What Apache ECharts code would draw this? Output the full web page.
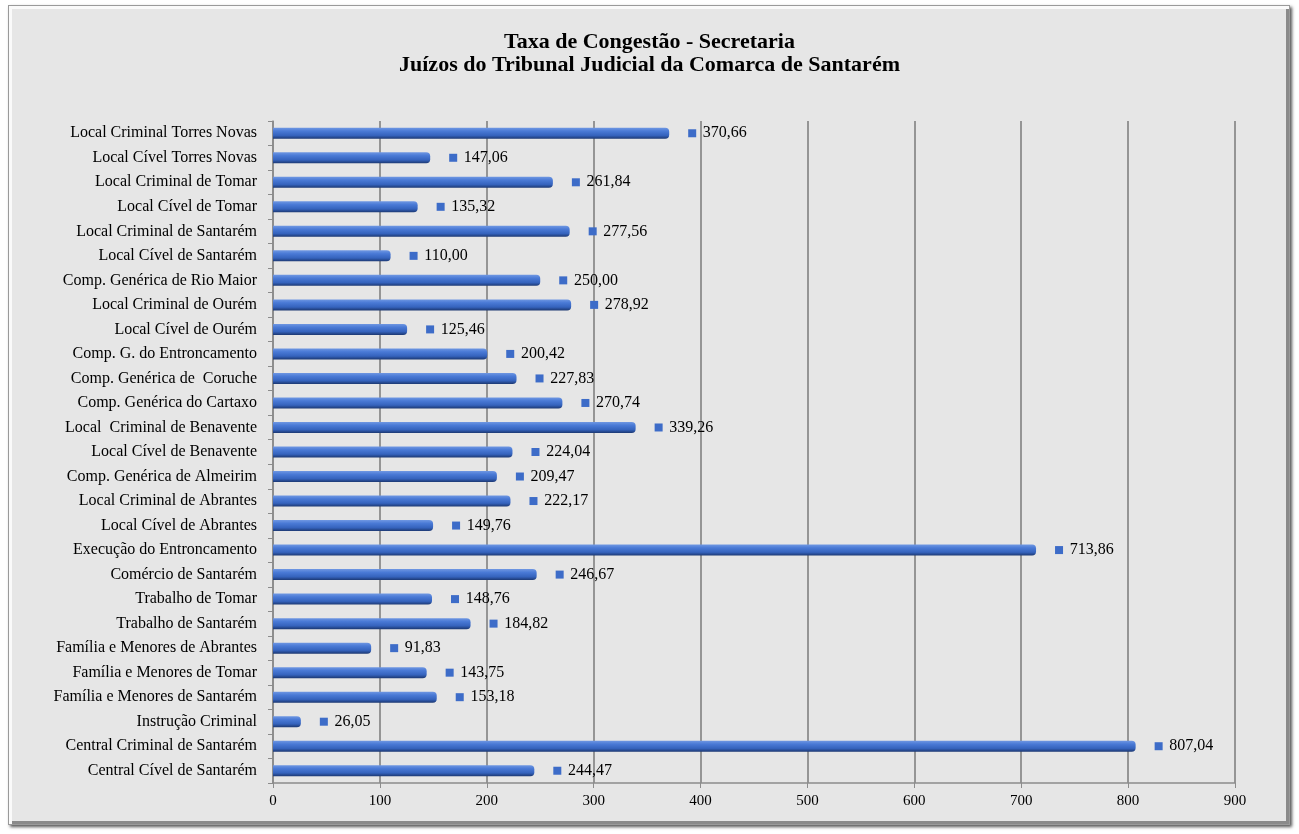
<!DOCTYPE html>
<html>
<head>
<meta charset="utf-8">
<script src="https://cdn.jsdelivr.net/npm/echarts@6/dist/echarts.min.js"></script>
<style>
  html, body { margin:0; padding:0; background:#ffffff; }
  #frame { position:absolute; left:8px; top:5px; width:1280px; height:818px;
    background:#e6e6e6; border:1px solid #9a9a9a;
    box-shadow: inset 3px 3px 0 #fafafa, inset -3px -3px 0 #8a8a8a, 2px 2px 3px #555; }
  #chart { position:absolute; left:0; top:0; width:1299px; height:834px; }
</style>
</head>
<body>
<div id="frame"></div>
<div id="chart"></div>
<script>
const titleLines = ['Taxa de Congestão - Secretaria', 'Juízos do Tribunal Judicial da Comarca de Santarém'];
const categories = [
  'Local Criminal Torres Novas', 'Local Cível Torres Novas', 'Local Criminal de Tomar', 'Local Cível de Tomar',
  'Local Criminal de Santarém', 'Local Cível de Santarém', 'Comp. Genérica de Rio Maior', 'Local Criminal de Ourém',
  'Local Cível de Ourém', 'Comp. G. do Entroncamento', 'Comp. Genérica de  Coruche', 'Comp. Genérica do Cartaxo',
  'Local  Criminal de Benavente', 'Local Cível de Benavente', 'Comp. Genérica de Almeirim', 'Local Criminal de Abrantes',
  'Local Cível de Abrantes', 'Execução do Entroncamento', 'Comércio de Santarém', 'Trabalho de Tomar',
  'Trabalho de Santarém', 'Família e Menores de Abrantes', 'Família e Menores de Tomar', 'Família e Menores de Santarém',
  'Instrução Criminal', 'Central Criminal de Santarém', 'Central Cível de Santarém'
];
const values = [
  370.66, 147.06, 261.84, 135.32, 277.56, 110.00, 250.00, 278.92,
  125.46, 200.42, 227.83, 270.74, 339.26, 224.04, 209.47, 222.17,
  149.76, 713.86, 246.67, 148.76, 184.82, 91.83, 143.75, 153.18,
  26.05, 807.04, 244.47
];
const xTicks = { min: 0, max: 900, interval: 100 };

const serif = '"Liberation Serif", "DejaVu Serif", serif';
const chart = echarts.init(document.getElementById('chart'));
chart.setOption({
  backgroundColor: 'transparent',
  animation: false,
  title: {
    text: titleLines.join('\n'),
    left: 'center', top: 26,
    textStyle: { fontFamily: serif, fontWeight: 'bold', fontSize: 22, lineHeight: 23, color: '#000' }
  },
  grid: { left: 273, right: 64, top: 121, bottom: 51, containLabel: false },
  xAxis: {
    type: 'value', min: xTicks.min, max: xTicks.max, interval: xTicks.interval,
    axisLine: { show: true, lineStyle: { color: '#8c8c8c', width: 1.5 } },
    axisTick: { show: true, length: 5, lineStyle: { color: '#8c8c8c' } },
    axisLabel: { fontFamily: serif, fontSize: 15, color: '#000', margin: 11 },
    splitLine: { show: true, lineStyle: { color: '#8c8c8c', width: 1.8 } }
  },
  yAxis: {
    type: 'category', data: categories, inverse: true,
    axisLine: { show: true, lineStyle: { color: '#8c8c8c', width: 1.5 } },
    axisTick: { show: true, length: 5, alignWithLabel: false, lineStyle: { color: '#8c8c8c' } },
    axisLabel: { fontFamily: serif, fontSize: 16, color: '#000', margin: 16 }
  },
  series: [{
    type: 'bar', data: values, barWidth: 11,
    itemStyle: {
      color: new echarts.graphic.LinearGradient(0, 0, 0, 1, [
        { offset: 0, color: '#6f97e2' },
        { offset: 0.3, color: '#4a7ad6' },
        { offset: 0.7, color: '#3563bd' },
        { offset: 1, color: '#1c3872' }
      ]),
      borderRadius: [0, 4, 4, 0]
    },
    label: {
      show: true, position: 'right', distance: 19,
      formatter: p => '{sq|}  {v|' + p.value.toFixed(2).replace('.', ',') + '}',
      rich: {
        sq: { width: 8, height: 8, backgroundColor: '#3d6cc8' },
        v: { fontFamily: serif, fontSize: 16, color: '#000' }
      }
    }
  }]
});
</script>
</body>
</html>
